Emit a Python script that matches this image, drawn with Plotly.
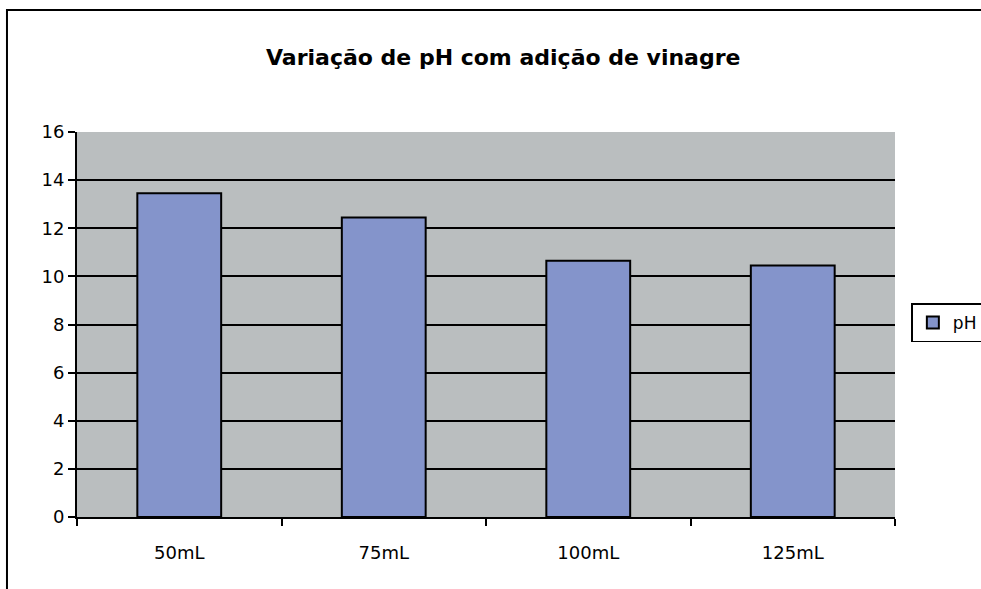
import plotly.graph_objects as go

categories = ["50mL", "75mL", "100mL", "125mL"]
ph_values = [13.45, 12.45, 10.65, 10.45]
y_ticks = [0, 2, 4, 6, 8, 10, 12, 14, 16]

fig = go.Figure()

fig.add_trace(
    go.Bar(
        x=categories,
        y=ph_values,
        name="pH",
        marker=dict(color="#8494CB", line=dict(color="black", width=2)),
    )
)

# plot area: left 77px, right 895px, top 132px, bottom 517px
fig.update_layout(
    width=981,
    height=589,
    margin=dict(l=77, r=86, t=132, b=72, autoexpand=False),
    paper_bgcolor="white",
    plot_bgcolor="#BABEBF",
    bargap=0.59,
    font=dict(family="DejaVu Sans, Liberation Sans, sans-serif", size=18, color="black"),
    title=dict(
        text="<b>Variação de pH com adição de vinagre</b>",
        x=0.513,
        xanchor="center",
        y=0.903,
        yanchor="middle",
        font=dict(size=22, color="black"),
    ),
    showlegend=True,
    legend=dict(
        x=1.02,
        xanchor="left",
        y=0.504,
        yanchor="middle",
        bordercolor="black",
        borderwidth=1.5,
        bgcolor="white",
        font=dict(size=17),
        itemwidth=30,
    ),
    xaxis=dict(
        type="category",
        showgrid=False,
        showline=True,
        linecolor="black",
        linewidth=2,
        ticks="outside",
        tickson="boundaries",
        ticklen=7,
        tickwidth=2,
        tickcolor="black",
        ticklabelstandoff=18,
    ),
    yaxis=dict(
        range=[0, 16],
        tickvals=y_ticks,
        showgrid=True,
        gridcolor="black",
        gridwidth=2,
        showline=True,
        linecolor="black",
        linewidth=2,
        ticks="outside",
        ticklen=7,
        tickwidth=2,
        tickcolor="black",
        zeroline=False,
    ),
    shapes=[
        dict(
            type="rect",
            xref="paper",
            yref="paper",
            x0=-0.0856,
            x1=1.5,
            y0=-0.4,
            y1=1.317,
            line=dict(color="black", width=2),
            fillcolor="rgba(0,0,0,0)",
            layer="below",
        )
    ],
)

fig.write_html(
    "out.html",
    config={"displayModeBar": False},
    post_script="document.body.style.margin='0';document.body.style.overflow='hidden';",
)
